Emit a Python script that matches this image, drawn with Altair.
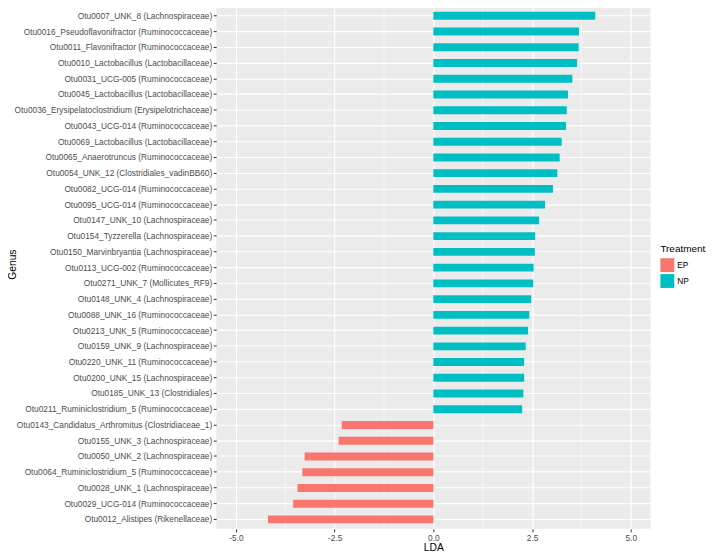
import altair as alt
import pandas as pd

genus = [
    "Otu0007_UNK_8 (Lachnospiraceae)",
    "Otu0016_Pseudoflavonifractor (Ruminococcaceae)",
    "Otu0011_Flavonifractor (Ruminococcaceae)",
    "Otu0010_Lactobacillus (Lactobacillaceae)",
    "Otu0031_UCG-005 (Ruminococcaceae)",
    "Otu0045_Lactobacillus (Lactobacillaceae)",
    "Otu0036_Erysipelatoclostridium (Erysipelotrichaceae)",
    "Otu0043_UCG-014 (Ruminococcaceae)",
    "Otu0069_Lactobacillus (Lactobacillaceae)",
    "Otu0065_Anaerotruncus (Ruminococcaceae)",
    "Otu0054_UNK_12 (Clostridiales_vadinBB60)",
    "Otu0082_UCG-014 (Ruminococcaceae)",
    "Otu0095_UCG-014 (Ruminococcaceae)",
    "Otu0147_UNK_10 (Lachnospiraceae)",
    "Otu0154_Tyzzerella (Lachnospiraceae)",
    "Otu0150_Marvinbryantia (Lachnospiraceae)",
    "Otu0113_UCG-002 (Ruminococcaceae)",
    "Otu0271_UNK_7 (Mollicutes_RF9)",
    "Otu0148_UNK_4 (Lachnospiraceae)",
    "Otu0088_UNK_16 (Ruminococcaceae)",
    "Otu0213_UNK_5 (Ruminococcaceae)",
    "Otu0159_UNK_9 (Lachnospiraceae)",
    "Otu0220_UNK_11 (Ruminococcaceae)",
    "Otu0200_UNK_15 (Lachnospiraceae)",
    "Otu0185_UNK_13 (Clostridiales)",
    "Otu0211_Ruminiclostridium_5 (Ruminococcaceae)",
    "Otu0143_Candidatus_Arthromitus (Clostridiaceae_1)",
    "Otu0155_UNK_3 (Lachnospiraceae)",
    "Otu0050_UNK_2 (Lachnospiraceae)",
    "Otu0064_Ruminiclostridium_5 (Ruminococcaceae)",
    "Otu0028_UNK_1 (Lachnospiraceae)",
    "Otu0029_UCG-014 (Ruminococcaceae)",
    "Otu0012_Alistipes (Rikenellaceae)",
]

lda = [
    4.10, 3.69, 3.68, 3.64, 3.52, 3.41, 3.38, 3.36, 3.25, 3.20, 3.14, 3.03,
    2.83, 2.68, 2.58, 2.57, 2.54, 2.53, 2.48, 2.43, 2.40, 2.34, 2.30, 2.30,
    2.28, 2.25,
    -2.32, -2.40, -3.26, -3.32, -3.44, -3.55, -4.19,
]

treatment = [
    "NP", "NP", "NP", "NP", "NP", "NP", "NP", "NP", "NP", "NP", "NP", "NP",
    "NP", "NP", "NP", "NP", "NP", "NP", "NP", "NP", "NP", "NP", "NP", "NP",
    "NP", "NP",
    "EP", "EP", "EP", "EP", "EP", "EP", "EP",
]

x_ticks = [-5.0, -2.5, 0.0, 2.5, 5.0]
minor_breaks = [-3.75, -1.25, 1.25, 3.75]

df = pd.DataFrame({"Genus": genus, "LDA": lda, "Treatment": treatment})
minor_df = pd.DataFrame({"LDA": minor_breaks})

FONT = "Liberation Sans"

x_scale = alt.Scale(domain=[-5.5, 5.5], nice=False, zero=False)

minor = alt.Chart(minor_df).mark_rule(color="white", strokeWidth=0.55).encode(
    x=alt.X("LDA:Q", scale=x_scale)
)

bars = alt.Chart(df).mark_bar().encode(
    x=alt.X(
        "LDA:Q",
        scale=x_scale,
        axis=alt.Axis(
            values=x_ticks,
            labelExpr="replace(format(datum.value, '.1f'), '\u2212', '-')",
            title="LDA",
            grid=True,
            gridColor="white",
            gridWidth=1.1,
            domain=False,
            tickColor="#333333",
            tickSize=3,
            tickWidth=1,
            labelColor="#4D4D4D",
            labelFontSize=8.4,
            labelFont=FONT,
            labelPadding=1.5,
            titleFont=FONT,
            titleFontSize=10.4,
            titleFontWeight="normal",
            titleColor="black",
            titlePadding=0.5,
        ),
    ),
    y=alt.Y(
        "Genus:N",
        sort=genus,
        scale=alt.Scale(paddingInner=0.5, paddingOuter=0.35),
        axis=alt.Axis(
            title="Genus",
            grid=True,
            gridColor="white",
            gridWidth=1.1,
            bandPosition=0.5,
            domain=False,
            tickColor="#333333",
            tickSize=3,
            tickWidth=1,
            labelColor="#4D4D4D",
            labelFontSize=8.4,
            labelFont=FONT,
            labelPadding=1.5,
            labelLimit=400,
            titleFont=FONT,
            titleFontSize=10.4,
            titleFontWeight="normal",
            titleColor="black",
            titleAngle=270,
            titleBaseline="bottom",
            titleAlign="center",
            titleX=-200,
            titleY=260,
        ),
    ),
    color=alt.Color(
        "Treatment:N",
        scale=alt.Scale(domain=["EP", "NP"], range=["#F8766D", "#00BFC4"]),
        legend=alt.Legend(
            title="Treatment",
            orient="none",
            legendX=448,
            legendY=240,
            symbolType="square",
            symbolSize=196,
            symbolStrokeWidth=0,
            symbolOpacity=1,
            rowPadding=2,
            labelOffset=3,
            labelFont=FONT,
            labelFontSize=8.4,
            labelColor="black",
            titleFont=FONT,
            titleFontSize=10,
            titleFontWeight="normal",
            titleColor="black",
            titlePadding=4,
            padding=0,
        ),
    ),
)

chart = alt.layer(minor, bars).properties(
    width=438,
    height=527,
    padding={"left": 0, "top": -5, "right": 0, "bottom": 0},
    background="white",
).configure_view(fill="#EBEBEB", stroke=None)

chart.save("out.html", embed_options={"renderer": "svg", "actions": False})
